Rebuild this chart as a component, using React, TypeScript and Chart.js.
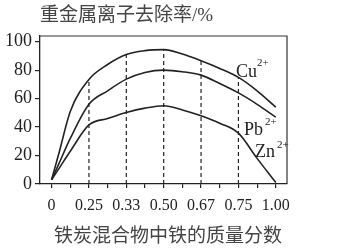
import React, { useEffect, useRef } from "react";
import { Chart, registerables } from "chart.js";

Chart.register(...registerables);

// ---- data ----
const categories = ["0", "0.25", "0.33", "0.50", "0.67", "0.75", "1.00"];
// x positions in category-index units (0 = "0", 6 = "1.00")
const positions = [0, 0.2, 0.5, 1, 1.5, 2, 2.5, 3, 3.5, 4, 4.5, 5, 5.5, 6];
const cuValues = [3, 22, 51, 73.5, 84, 91, 93.7, 94.4, 91.3, 86.6, 81.2, 74.9, 65.5, 54];
const pbValues = [3, 14.5, 32, 56, 65.5, 73.7, 78.4, 80, 78.9, 76.5, 70.6, 64, 56, 47];
const znValues = [3, 11, 23, 41.5, 46, 50.2, 53.3, 55, 52, 47.9, 42.7, 35.7, 18, 1];
const yTicks = [0, 20, 40, 60, 80, 100];
const guideCategories = [1, 2, 3, 4, 5];
const seriesNames = ["Cu", "Pb", "Zn"];
const charge = "2+";
const yTitle = "重金属离子去除率/%";
const xTitle = "铁炭混合物中铁的质量分数";

const INK = "#222";
const SERIF = "'Liberation Serif', 'DejaVu Serif', serif";
const CJK = "'Liberation Serif', 'Noto Sans CJK SC', sans-serif";

const toPts = (vals: number[]) => positions.map((x, i) => ({ x, y: vals[i] }));

const decorPlugin = {
  id: "decor",
  afterDraw(chart: any) {
    const { ctx, chartArea: a } = chart;
    ctx.save();
    // top and right frame
    ctx.strokeStyle = "#333";
    ctx.lineWidth = 1.2;
    ctx.beginPath();
    ctx.moveTo(a.left, a.top);
    ctx.lineTo(a.right, a.top);
    ctx.lineTo(a.right, a.bottom);
    ctx.stroke();

    // titles
    ctx.fillStyle = "#444";
    ctx.font = `19px ${CJK}`;
    ctx.textBaseline = "middle";
    ctx.textAlign = "left";
    ctx.fillText(yTitle, 40, 16.5);
    ctx.textAlign = "center";
    ctx.fillText(xTitle, 168, 237.5);

    // series labels
    const spots = [
      { x: 236, y: 77, sx: 257, sy: 66 },
      { x: 244, y: 134.5, sx: 265, sy: 125 },
      { x: 255, y: 157, sx: 277, sy: 148 },
    ];
    ctx.fillStyle = INK;
    ctx.textAlign = "left";
    ctx.textBaseline = "alphabetic";
    seriesNames.forEach((name, i) => {
      const s = spots[i];
      ctx.font = `18px ${SERIF}`;
      ctx.fillText(name, s.x, s.y);
      ctx.font = `11px ${SERIF}`;
      ctx.fillText(charge, s.sx, s.sy);
    });
    ctx.restore();
  },
};

export default function App() {
  const ref = useRef<HTMLCanvasElement | null>(null);

  useEffect(() => {
    if (!ref.current) return;
    const line = (vals: number[]) => ({
      data: toPts(vals),
      borderColor: INK,
      borderWidth: 1.6,
      pointRadius: 0,
      fill: false,
      cubicInterpolationMode: "monotone" as const,
    });
    const guides = guideCategories.map((c) => ({
      data: [
        { x: c, y: 0 },
        { x: c, y: cuValues[positions.indexOf(c)] },
      ],
      borderColor: INK,
      borderWidth: 1.2,
      borderDash: [4, 3],
      pointRadius: 0,
      fill: false,
    }));

    const chart = new Chart(ref.current, {
      type: "line",
      data: {
        datasets: [...guides, line(cuValues), line(pbValues), line(znValues)] as any,
      },
      options: {
        animation: false,
        responsive: true,
        maintainAspectRatio: false,
        layout: { padding: { top: 36, right: 52, left: 0, bottom: 0 } },
        plugins: { legend: { display: false }, tooltip: { enabled: false } },
        scales: {
          x: {
            type: "linear",
            min: -0.31,
            max: 6.3,
            afterBuildTicks: (s: any) => {
              const t = [];
              for (let i = 0; i <= (categories.length - 1) * 2; i++) t.push({ value: i / 2 });
              s.ticks = t;
            },
            afterFit: (s: any) => {
              s.height = 68;
            },
            ticks: {
              autoSkip: false,
              maxRotation: 0,
              minRotation: 0,
              padding: 8,
              color: INK,
              font: { family: SERIF, size: 16 },
              callback: (v: any) => {
                const n = Number(v);
                return Math.abs(n - Math.round(n)) < 1e-6 ? categories[Math.round(n)] : "";
              },
            },
            grid: { drawOnChartArea: false, tickLength: 4, color: INK, lineWidth: 1.2 },
            border: { color: INK, width: 1.3 },
          },
          y: {
            type: "linear",
            min: 0,
            max: 104,
            afterBuildTicks: (s: any) => {
              s.ticks = yTicks.map((v) => ({ value: v }));
            },
            afterFit: (s: any) => {
              s.width = 40;
            },
            ticks: {
              padding: 3,
              color: INK,
              font: { family: SERIF, size: 18 },
            },
            grid: { drawOnChartArea: false, tickLength: 5, color: INK, lineWidth: 1.2 },
            border: { color: INK, width: 1.3 },
          },
        },
      },
      plugins: [decorPlugin],
    });
    return () => chart.destroy();
  }, []);

  return (
    <div style={{ position: "absolute", left: 0, top: 0, width: 339, height: 252, background: "#fff" }}>
      <canvas ref={ref} />
    </div>
  );
}
